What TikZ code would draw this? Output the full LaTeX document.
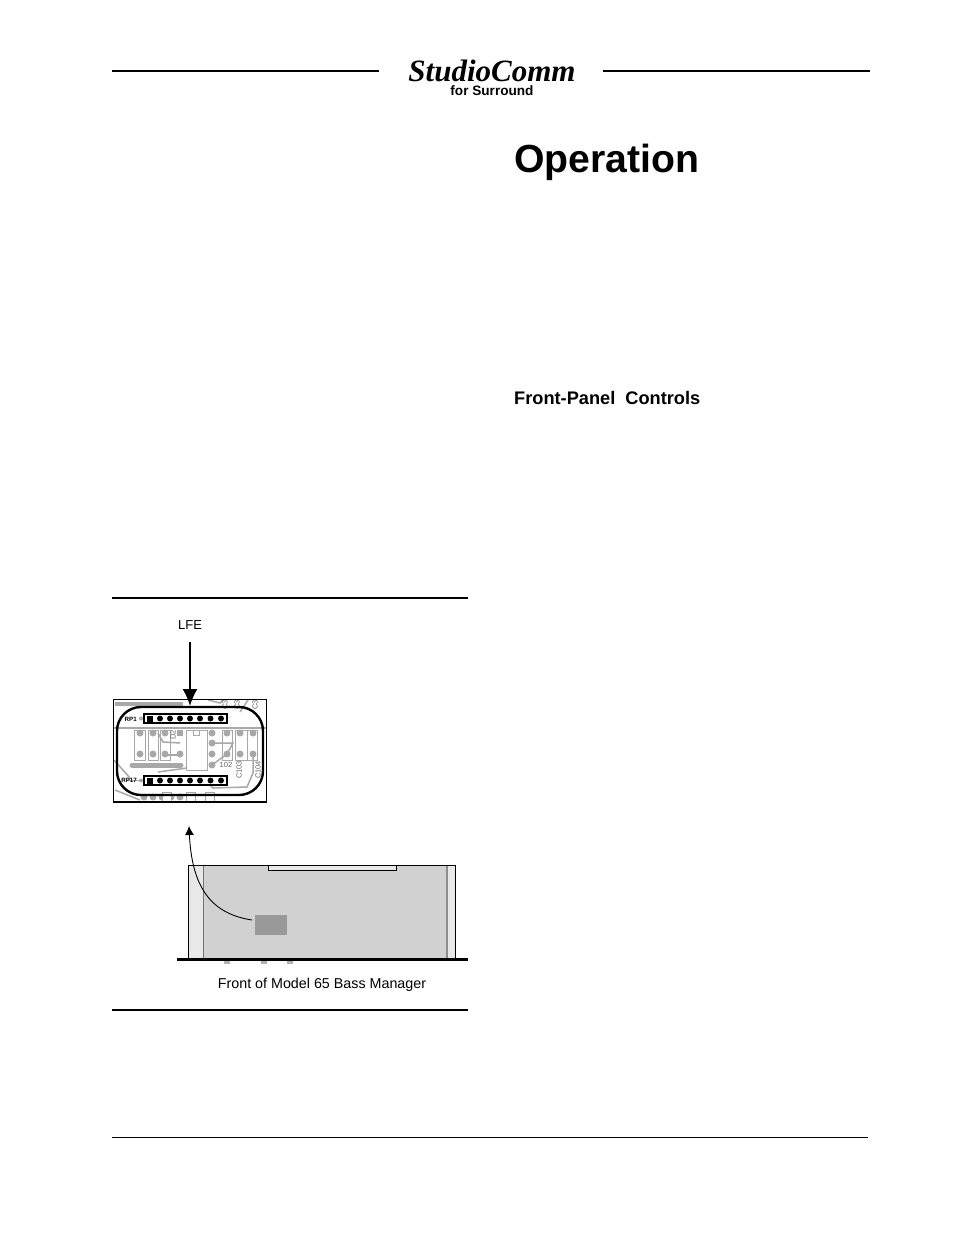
\documentclass[tikz,border=0pt]{standalone}
\usepackage{fontspec}
\setmainfont{Liberation Sans}
\newfontfamily\logofont{Liberation Serif}
\usetikzlibrary{arrows.meta}
\definecolor{rackgray}{gray}{0.82}
\definecolor{earsgray}{gray}{0.91}
\definecolor{chipgray}{gray}{0.60}
\definecolor{tracegray}{gray}{0.66}
\tikzset{
    rule/.style={line width=1.4pt},
    pin/.style={circle,fill=black,inner sep=0pt,minimum size=6pt},
    pad/.style={circle,fill=tracegray,inner sep=0pt,minimum size=7pt},
    trace/.style={tracegray,line width=1.5pt},
    part/.style={tracegray,line width=0.8pt},
    header/.style={draw=black,line width=1.1pt,fill=white,minimum width=83pt,minimum height=9pt,inner sep=0pt},
    silk/.style={font=\bfseries\fontsize{6.2}{6.2}\selectfont,inner sep=0pt},
    gray silk/.style={text=black!60,font=\fontsize{7.5}{7.5}\selectfont,inner sep=0pt},
    pointer/.style={-{Latex[length=17pt,width=15pt]},line width=1.8pt},
    thin pointer/.style={-{Latex[length=9pt,width=9pt]},line width=0.9pt},
}
\begin{document}
\begin{tikzpicture}[x=1pt,y=-1pt]
    \useasboundingbox (0,0) rectangle (954,1235);
    \fill[white] (0,0) rectangle (954,1235);

    % page head
    \draw[rule] (112,71)--(379,71);
    \draw[rule] (603,71)--(870,71);
    \node[anchor=base,inner sep=0pt] (logo) at (492,81.5){\logofont\bfseries\itshape\fontsize{31}{31}\selectfont StudioComm};
    \node[anchor=base,inner sep=0pt] (surround) at (492,95.5){\bfseries\fontsize{13.6}{13.6}\selectfont for Surround};
    \node[anchor=base west,inner sep=0pt] (title) at (514,172){\bfseries\fontsize{39.2}{39.2}\selectfont Operation};
    \node[anchor=base west,inner sep=0pt] (front) at (514,404.5){\bfseries\fontsize{18.2}{18.2}\selectfont Front-Panel\ \ Controls};

    % figure rules
    \draw[rule] (112,598)--(468,598);
    \draw[rule] (112,1010)--(468,1010);
    \draw[line width=0.8pt] (112,1137)--(868,1137);

    % circuit board
    \begin{scope}
    \clip (113.5,699.5) rectangle (266.5,802);
    \fill[tracegray] (115,702) rectangle (183,705.5);
    \draw[trace] (114,728)--(266,728);
    \foreach \a/\b in {134/145,148/158,160/170,222/232,235/247,247/257}
        \draw[part] (\a,730) rectangle (\b,760);
    \draw[trace] (158,733)--(163,742)--(180,743);
    \draw[trace] (163,755)--(180,755);
    \draw[trace] (212,743)--(233,743)--(227,754);
    \draw[trace] (212,765)--(227,754);
    \draw[trace] (253,755)--(253,773)--(247,787)--(213,788)--(205,780);
    \draw[trace] (127,780.5)--(144,780.5);
    \draw[trace] (158,772)--(187,768);
    \draw[trace] (114,760)--(130,778);
    \draw[trace] (208,700)--(220,703)--(228,695);
    \draw[trace] (115,790)--(140,800);
    \draw[trace] (240,712)--(248,700);
    \draw[line width=5pt,tracegray,line cap=round] (132,765)--(181,765);
    \fill[white,draw=tracegray,line width=0.8pt] (186,730) rectangle (207,770);
    \fill[white,draw=tracegray,line width=0.8pt] (193,730) rectangle (199,735);
    \foreach \x/\y in {140/733,153/733,165/733,140/754,153/754,165/754,180/754,227/733,240/733,253/733,227/754,240/754,253/754}
        \node[pad] at (\x,\y){};
    \fill[tracegray] (177,730) rectangle +(6,6);
    \foreach \y in {733,743,754,765}
        \node[pad] at (212,\y){};
    \foreach \x in {144,153,...,180}
        \node[pad] at (\x,797){};
    \foreach \x in {162,186,205}
        \draw[part,fill=white] (\x,792) rectangle ++(9,9);
    \node[pad,minimum size=4pt] at (141,718.5){};
    \node[pad,minimum size=4pt] at (141,780.5){};
    \node[gray silk,rotate=90] at (225,703){C34};
    \node[gray silk,rotate=90] at (237,703){C35};
    \node[gray silk,rotate=90] at (255,703){C36};
    \node[gray silk,rotate=90] at (173,735){D2};
    \node[gray silk] (oneotwo) at (226,765){102};
    \node[gray silk,rotate=90] at (239,770){C103};
    \node[gray silk,rotate=90] at (258,770){C104};
    \end{scope}

    % headers RP1 and RP17
    \node[header] (rpa) at (185.5,718.5){};
    \node[header] (rpb) at (185.5,780.5){};
    \fill (147,716) rectangle +(5.5,5.5);
    \fill (147,778) rectangle +(5.5,5.5);
    \foreach \x in {160,170,180,190,200,210.5,221}
    {
        \node[pin] at (\x,718.5){};
        \node[pin] at (\x,780.5){};
    }
    \node[silk,anchor=east] (rpalabel) at (137,719){RP1};
    \node[silk,anchor=east] (rpblabel) at (137,780.5){RP17};

    % frame and outline
    \draw[line width=1.4pt] (113.5,699.5) rectangle (266.5,802);
    \draw[line width=2.4pt,rounded corners=24pt] (117,707) rectangle (263,795);

    \node[font=\fontsize{13}{13}\selectfont,inner sep=0pt] (lfe) at (190,625){LFE};
    \coordinate (lfetip) at (190,706);
    \draw[pointer] (lfe.south |- 0,642)--(lfetip);

    % rack unit
    \draw[fill=earsgray,line width=0.7pt] (188.5,865.5) rectangle (455.5,958);
    \fill[rackgray] (203.5,865.5) rectangle (447,958);
    \draw[black!55,line width=0.9pt] (203.5,865.5)--(203.5,958);
    \draw[black!45,line width=1.6pt] (447,865.5)--(447,958);
    \draw[line width=0.7pt] (188.5,865.5) rectangle (455.5,958);
    \draw[fill=earsgray,line width=0.7pt] (268,865.5) rectangle (396.5,870);
    \foreach \x in {224,261,287}
        \fill[black!30] (\x,961) rectangle +(6,2.5);
    \draw[line width=3pt] (177,959.5)--(468,959.5);
    \node[fill=chipgray,minimum width=32pt,minimum height=20pt,inner sep=0pt] (chip) at (271,925){};
    \coordinate (chipend) at (252,920);
    \coordinate (boardtip) at (189,826);
    \draw[thin pointer] (chipend) .. controls (213,914) and (192,890) .. (boardtip);
    \node[font=\fontsize{14.3}{14.3}\selectfont,inner sep=0pt] (caption) at (322,984.5){Front of Model 65 Bass Manager};
\end{tikzpicture}
\end{document}
